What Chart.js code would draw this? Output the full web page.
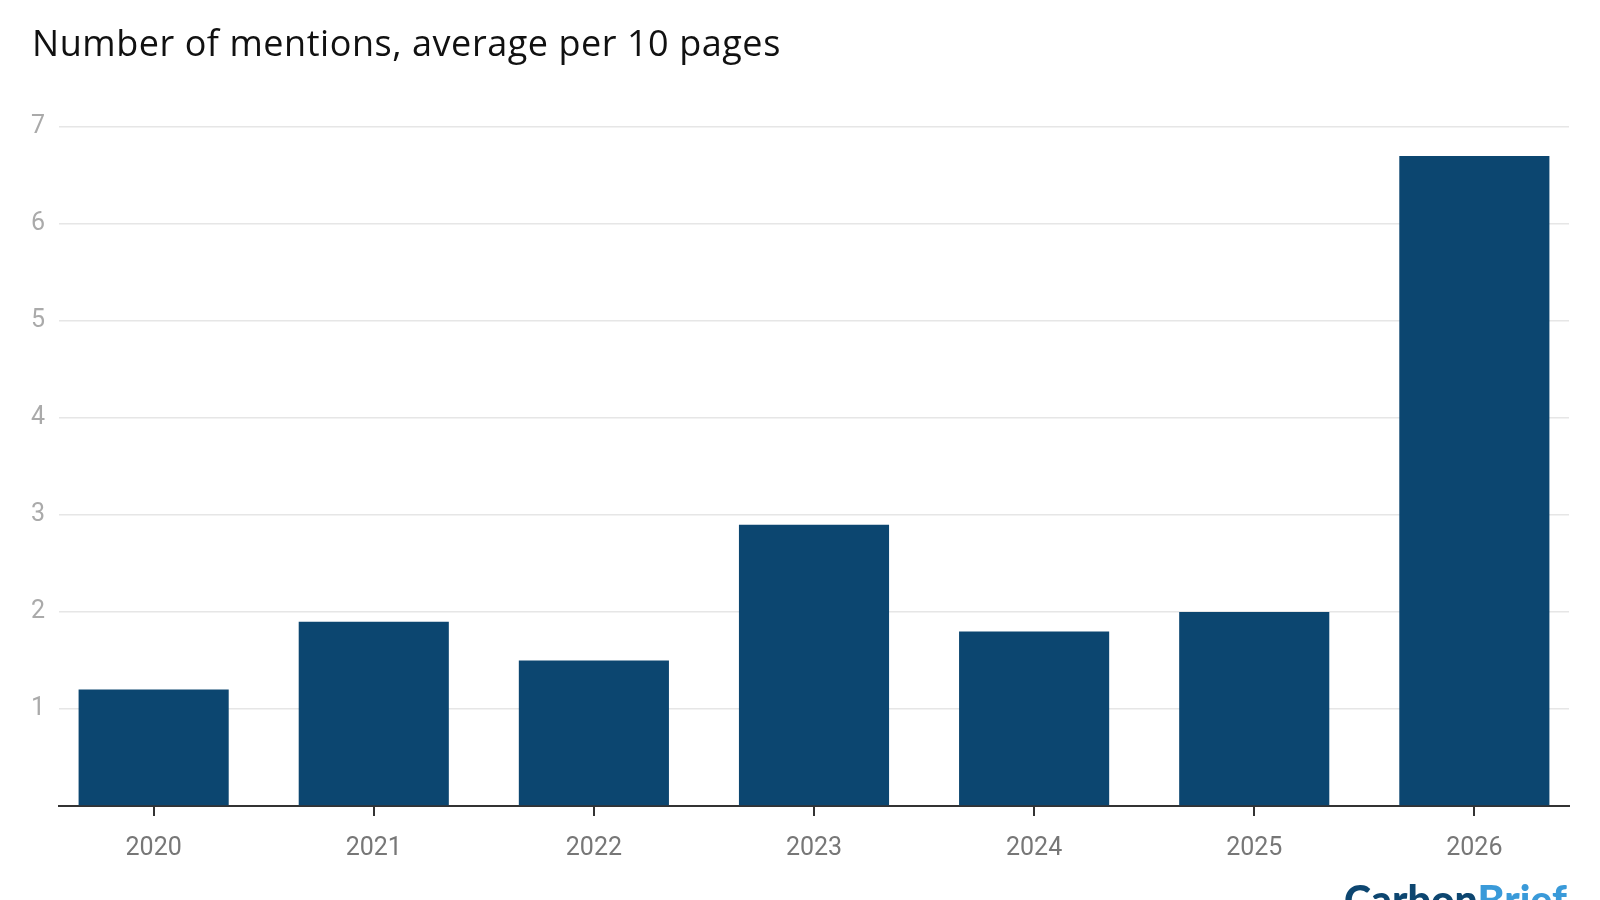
<!DOCTYPE html>
<html>
<head>
<meta charset="utf-8">
<script src="https://cdn.jsdelivr.net/npm/chart.js@4.4.1/dist/chart.umd.min.js"></script>
<style>
  body { margin: 0; background: #fff; overflow: hidden; }
  #wrap { position: relative; width: 1600px; height: 900px; }
  #sub { position: absolute; left: 32px; top: 18px; font: 36px "Open Sans", sans-serif; letter-spacing: 0.55px; color: #111; white-space: nowrap; }
  #source { position: absolute; left: 32px; top: 895px; font: bold 22px "Open Sans", sans-serif; color: #222; white-space: nowrap; }
  #logo { position: absolute; left: 1344px; top: 875px; font: 900 41px Lato, sans-serif; color: #0d4670; white-space: nowrap; }
  #logo span { color: #3a9ad9; }
</style>
</head>
<body>
<div id="wrap">
  <canvas id="chart" width="1600" height="900"></canvas>
  <div id="sub">Number of mentions, average per 10 pages</div>
  <div id="source">Source: Carbon Brief analysis of CCP</div>
  <div id="logo">Carbon<span>Brief</span></div>
</div>
<script>
        const years = [2020, 2021, 2022, 2023, 2024, 2025, 2026];
        const mentions = [1.2, 1.9, 1.5, 2.9, 1.8, 2.0, 6.7];
        const yTicks = [0, 1, 2, 3, 4, 5, 6, 7];

        document.addEventListener('DOMContentLoaded', () => {
            const ctx = document.getElementById('chart').getContext('2d');
            new Chart(ctx, {
                type: 'bar',
                data: {
                    datasets: [{
                        data: years.map((y, i) => ({ x: y, y: mentions[i] })),
                        backgroundColor: '#0c4670',
                        borderWidth: 0,
                        barPercentage: 0.682,
                        categoryPercentage: 1
                    }]
                },
                options: {
                    responsive: false,
                    animation: false,
                    layout: { padding: { top: 127, right: 31, left: 0, bottom: 0 } },
                    plugins: { legend: { display: false }, tooltip: { enabled: false } },
                    scales: {
                        x: {
                            type: 'linear',
                            offset: false,
                            min: 2019.57,
                            max: 2026.43,
                            afterFit: s => { s.height = 94; },
                            border: { display: true, color: '#333', width: 2 },
                            grid: { offset: false, drawOnChartArea: false, color: '#333', lineWidth: 2, tickLength: 10 },
                            ticks: {
                                stepSize: 1,
                                includeBounds: false,
                                autoSkip: false,
                                maxRotation: 0,
                                padding: 18,
                                color: '#777',
                                font: { family: 'Roboto', size: 25 },
                                callback: v => String(v)
                            }
                        },
                        y: {
                            min: yTicks[0],
                            max: yTicks[yTicks.length - 1],
                            afterFit: s => { s.width = 59; },
                            afterBuildTicks: s => { s.ticks = yTicks.map(v => ({ value: v })); },
                            border: { display: false },
                            grid: { color: '#e6e6e6', lineWidth: 1.5, drawTicks: false },
                            ticks: {
                                padding: 14,
                                color: '#aaa',
                                font: { family: 'Roboto', size: 25 },
                                callback: v => (v === 0 ? '' : String(v))
                            }
                        }
                    }
                }
            });
        });
</script>
</body>
</html>
